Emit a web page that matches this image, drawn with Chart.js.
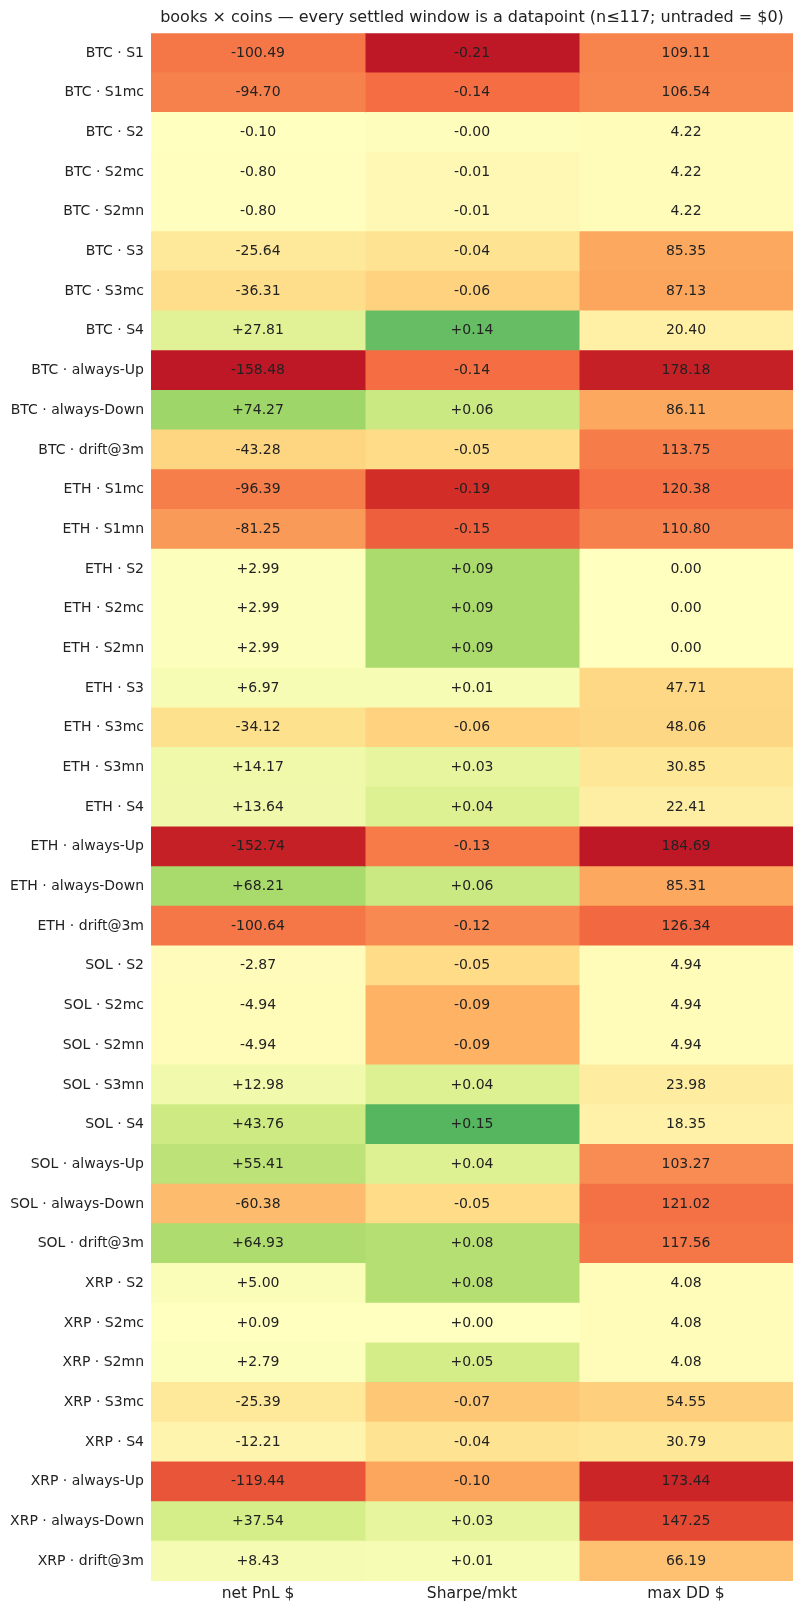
<!DOCTYPE html>
<html>
<head>
<meta charset="utf-8">
<script src="https://cdn.jsdelivr.net/npm/chart.js@4.4.1/dist/chart.umd.min.js"></script>
<style>
  html, body { margin: 0; padding: 0; background: #fff; }
  #wrap { width: 804px; height: 1614px; }
</style>
</head>
<body>
<div id="wrap"><canvas id="heat"></canvas></div>
<script>
// rows of the heatmap, top to bottom
const rowLabels = [
  "BTC · S1", "BTC · S1mc", "BTC · S2", "BTC · S2mc", "BTC · S2mn", "BTC · S3",
  "BTC · S3mc", "BTC · S4", "BTC · always-Up", "BTC · always-Down", "BTC · drift@3m",
  "ETH · S1mc", "ETH · S1mn", "ETH · S2", "ETH · S2mc", "ETH · S2mn", "ETH · S3",
  "ETH · S3mc", "ETH · S3mn", "ETH · S4", "ETH · always-Up", "ETH · always-Down",
  "ETH · drift@3m", "SOL · S2", "SOL · S2mc", "SOL · S2mn", "SOL · S3mn", "SOL · S4",
  "SOL · always-Up", "SOL · always-Down", "SOL · drift@3m", "XRP · S2", "XRP · S2mc",
  "XRP · S2mn", "XRP · S3mc", "XRP · S4", "XRP · always-Up", "XRP · always-Down",
  "XRP · drift@3m",
];
const colLabels = ["net PnL $", "Sharpe/mkt", "max DD $"];

const netPnl = [
  -100.49, -94.70, -0.10, -0.80, -0.80, -25.64, -36.31, 27.81, -158.48, 74.27, -43.28,
  -96.39, -81.25, 2.99, 2.99, 2.99, 6.97, -34.12, 14.17, 13.64, -152.74, 68.21, -100.64,
  -2.87, -4.94, -4.94, 12.98, 43.76, 55.41, -60.38, 64.93,
  5.00, 0.09, 2.79, -25.39, -12.21, -119.44, 37.54, 8.43,
];
const sharpe = [
  -0.21, -0.14, -0.003, -0.01, -0.01, -0.04, -0.06, 0.14, -0.14, 0.06, -0.05,
  -0.19, -0.15, 0.09, 0.09, 0.09, 0.01, -0.06, 0.03, 0.04, -0.13, 0.06, -0.12,
  -0.05, -0.09, -0.09, 0.04, 0.15, 0.04, -0.05, 0.08,
  0.08, 0.00, 0.05, -0.07, -0.04, -0.10, 0.03, 0.01,
];
const maxDD = [
  109.11, 106.54, 4.22, 4.22, 4.22, 85.35, 87.13, 20.40, 178.18, 86.11, 113.75,
  120.38, 110.80, 0.00, 0.00, 0.00, 47.71, 48.06, 30.85, 22.41, 184.69, 85.31, 126.34,
  4.94, 4.94, 4.94, 23.98, 18.35, 103.27, 121.02, 117.56,
  4.08, 4.08, 4.08, 54.55, 30.79, 173.44, 147.25, 66.19,
];

const columns = [netPnl, sharpe, maxDD];
const direction = [1, 1, -1]; // big drawdown = red
const formats = [
  (v) => (v > 0 ? "+" : "") + v.toFixed(2),
  (v) => (v >= 0 ? "+" : "") + v.toFixed(2),
  (v) => v.toFixed(2),
];

// RdYlGn, 11 stops
const rdylgn = [
  [165, 0, 38], [215, 48, 39], [244, 109, 67], [253, 174, 97], [254, 224, 139],
  [255, 255, 191], [217, 239, 139], [166, 217, 106], [102, 189, 99], [26, 152, 80],
  [0, 104, 55],
];

function colormap(t) {
  t = Math.max(0, Math.min(1, t));
  const pos = t * (rdylgn.length - 1);
  const i = Math.min(Math.floor(pos), rdylgn.length - 2);
  const f = pos - i;
  const a = rdylgn[i], b = rdylgn[i + 1];
  const c = a.map((v, k) => Math.round(v + (b[k] - v) * f));
  return `rgb(${c[0]},${c[1]},${c[2]})`;
}

// each column scaled by its own max |value|
const colMax = columns.map((vals) => Math.max(...vals.map(Math.abs)));
function cellColor(col, row) {
  const v = direction[col] * columns[col][row];
  return colormap(0.5 + 0.45 * v / colMax[col]);
}

const font = { family: "'DejaVu Sans', sans-serif", size: 14 };
const ink = "#222";

const cellText = {
  id: "cellText",
  afterDatasetsDraw(chart) {
    const ctx = chart.ctx;
    ctx.save();
    ctx.font = `${font.size}px ${font.family}`;
    ctx.fillStyle = ink;
    ctx.textAlign = "center";
    ctx.textBaseline = "middle";
    chart.data.datasets.forEach((ds, j) => {
      chart.getDatasetMeta(j).data.forEach((bar, k) => {
        const p = bar.getCenterPoint();
        ctx.fillText(formats[j](columns[j][k]), p.x, p.y);
      });
    });
    ctx.restore();
  },
};

new Chart(document.getElementById("heat"), {
  type: "bar",
  data: {
    labels: rowLabels,
    datasets: columns.map((vals, j) => ({
      label: colLabels[j],
      data: vals.map(() => [j, j + 1]),
      grouped: false,
      barPercentage: 1,
      categoryPercentage: 1,
      borderWidth: 0,
      inflateAmount: 0.5,
      backgroundColor: (c) => cellColor(j, c.dataIndex),
    })),
  },
  options: {
    indexAxis: "y",
    responsive: true,
    maintainAspectRatio: false,
    animation: false,
    layout: { padding: { left: 0, right: 11, top: 0, bottom: 0 } },
    plugins: {
      legend: { display: false },
      tooltip: { enabled: false },
      title: {
        display: true,
        text: "books × coins — every settled window is a datapoint (n≤117; untraded = $0)",
        fullSize: false,
        color: ink,
        font: { ...font, size: 16, weight: "normal" },
        padding: { top: 8, bottom: 6 },
      },
    },
    scales: {
      x: {
        type: "linear",
        min: 0,
        max: 3,
        grid: { display: false, drawTicks: false },
        border: { display: false },
        afterBuildTicks: (s) => { s.ticks = [0.5, 1.5, 2.5].map((v) => ({ value: v })); },
        ticks: {
          callback: (v) => colLabels[Math.floor(v)],
          font: { ...font, size: 15.5 },
          color: ink,
          padding: 4,
          maxRotation: 0,
        },
        afterFit: (s) => { s.height = 33; },
      },
      y: {
        grid: { display: false, drawTicks: false },
        border: { display: false },
        ticks: { font: font, color: ink, padding: 7, autoSkip: false },
        afterFit: (s) => { s.width = 151; },
      },
    },
  },
  plugins: [cellText],
});
</script>
</body>
</html>
